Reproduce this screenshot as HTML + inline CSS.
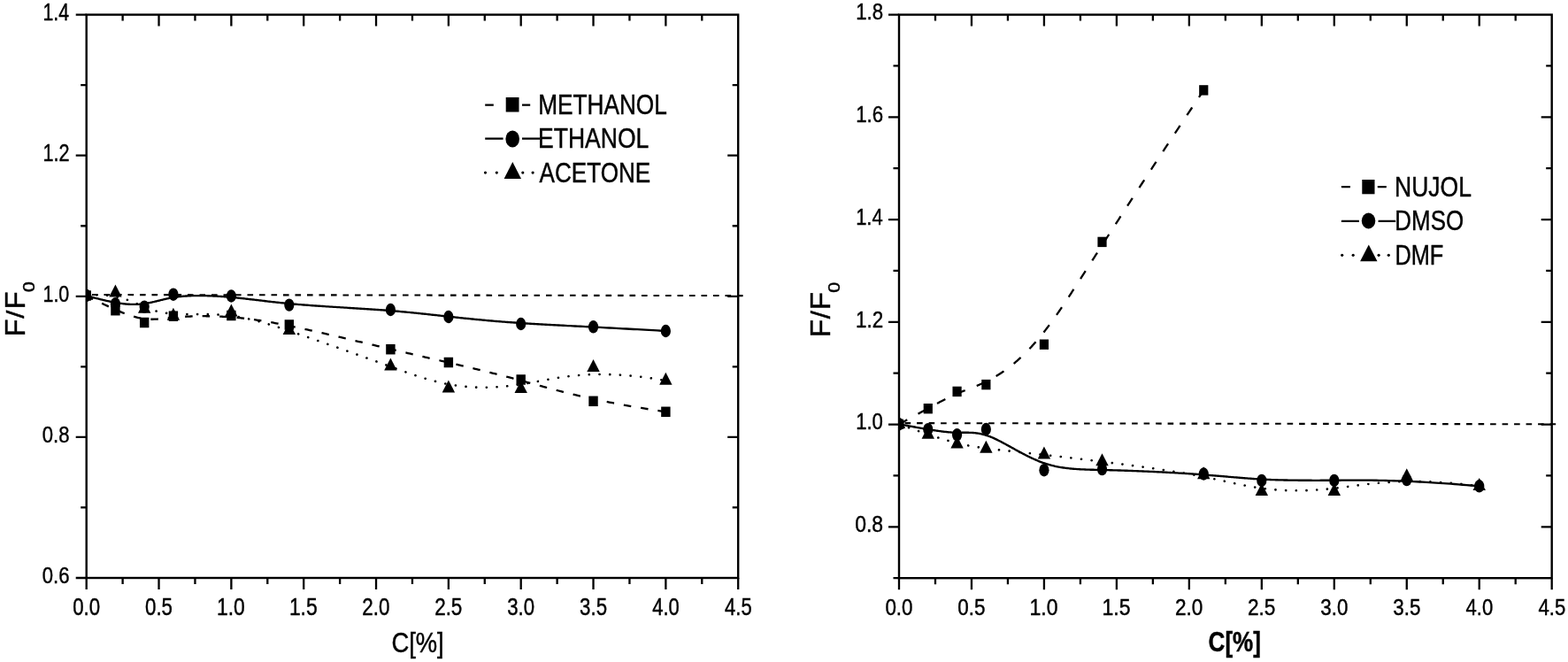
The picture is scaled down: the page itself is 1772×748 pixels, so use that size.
<!DOCTYPE html>
<html><head><meta charset="utf-8"><title>F/F0 vs C[%]</title>
<style>html,body{margin:0;padding:0;background:#fff;}body{width:1772px;height:748px;overflow:hidden;}svg{display:block;}text{stroke:#000;stroke-width:0.45px;}</style>
</head><body>
<svg width="1772" height="748" viewBox="0 0 1772 748" font-family="&quot;Liberation Sans&quot;, sans-serif" fill="#000">
<rect width="1772" height="748" fill="#fff"/>
<rect x="97.7" y="16.6" width="736.5" height="636.4" fill="none" stroke="#000" stroke-width="2.4"/>
<path d="M97.70 653.0 v13 M138.62 653.0 v7 M138.62 16.6 v7 M179.53 653.0 v13 M179.53 16.6 v13 M220.45 653.0 v7 M220.45 16.6 v7 M261.37 653.0 v13 M261.37 16.6 v13 M302.28 653.0 v7 M302.28 16.6 v7 M343.20 653.0 v13 M343.20 16.6 v13 M384.12 653.0 v7 M384.12 16.6 v7 M425.03 653.0 v13 M425.03 16.6 v13 M465.95 653.0 v7 M465.95 16.6 v7 M506.87 653.0 v13 M506.87 16.6 v13 M547.78 653.0 v7 M547.78 16.6 v7 M588.70 653.0 v13 M588.70 16.6 v13 M629.62 653.0 v7 M629.62 16.6 v7 M670.53 653.0 v13 M670.53 16.6 v13 M711.45 653.0 v7 M711.45 16.6 v7 M752.37 653.0 v13 M752.37 16.6 v13 M793.28 653.0 v7 M793.28 16.6 v7 M834.20 653.0 v13 M97.7 653.00 h-12 M97.7 573.45 h-6.5 M834.2 573.45 h-6.5 M97.7 493.90 h-12 M834.2 493.90 h-12 M97.7 414.35 h-6.5 M834.2 414.35 h-6.5 M97.7 334.80 h-12 M834.2 334.80 h-12 M97.7 255.25 h-6.5 M834.2 255.25 h-6.5 M97.7 175.70 h-12 M834.2 175.70 h-12 M97.7 96.15 h-6.5 M834.2 96.15 h-6.5 M97.7 16.60 h-12" stroke="#000" stroke-width="2.3" fill="none"/>
<text transform="translate(82.21 695.06) scale(0.8284 1)" font-size="26.86">0.0</text>
<text transform="translate(164.04 695.06) scale(0.8300 1)" font-size="26.86">0.5</text>
<text transform="translate(245.05 695.06) scale(0.8511 1)" font-size="26.86">1.0</text>
<text transform="translate(326.88 695.06) scale(0.8407 1)" font-size="27.24">1.5</text>
<text transform="translate(409.31 695.06) scale(0.8348 1)" font-size="26.86">2.0</text>
<text transform="translate(491.14 695.06) scale(0.8364 1)" font-size="26.86">2.5</text>
<text transform="translate(573.27 695.06) scale(0.8269 1)" font-size="26.86">3.0</text>
<text transform="translate(655.10 695.06) scale(0.8284 1)" font-size="26.86">3.5</text>
<text transform="translate(737.27 695.06) scale(0.8175 1)" font-size="26.86">4.0</text>
<text transform="translate(819.11 695.06) scale(0.8075 1)" font-size="27.24">4.5</text>
<text transform="translate(47.72 659.07) scale(0.8363 1)" font-size="26.43">0.6</text>
<text transform="translate(47.72 499.97) scale(0.8363 1)" font-size="26.43">0.8</text>
<text transform="translate(48.49 340.87) scale(0.8115 1)" font-size="26.43">1.0</text>
<text transform="translate(48.48 182.03) scale(0.8079 1)" font-size="26.81">1.2</text>
<text transform="translate(48.50 22.93) scale(0.7824 1)" font-size="27.20">1.4</text>
<text transform="translate(442.43 737.30) scale(0.8980 1)" font-size="30.46">C[%]</text>
<text transform="translate(27.52 380.51) rotate(-90) scale(1.0745 1)" font-size="30.55">F</text>
<text transform="translate(27.24 359.70) rotate(-90) scale(1.1477 1)" font-size="28.57">/</text>
<text transform="translate(27.52 349.62) rotate(-90) scale(1.0812 1)" font-size="30.55">F</text>
<text transform="translate(39.27 330.05) rotate(-90) scale(1.1252 1)" font-size="18.80">0</text>
<clipPath id="cL"><rect x="97.7" y="16.6" width="736.5" height="636.4"/></clipPath>
<clipPath id="cR"><rect x="1016.0" y="16.6" width="737.7" height="636.6"/></clipPath>
<path d="M97.7 333.0 L840.2 334.1" stroke="#000" stroke-width="2.1" stroke-dasharray="6.6 6.9" stroke-dashoffset="7.2" fill="none"/>
<g clip-path="url(#cL)">
<path d="M97.70 334.00 L99.65 334.99 L101.56 335.96 L103.43 336.91 L105.27 337.83 L107.06 338.73 L108.83 339.61 L110.55 340.47 L112.24 341.30 L113.90 342.11 L115.53 342.90 L117.12 343.67 L118.67 344.42 L120.20 345.15 L121.70 345.86 L123.16 346.55 L124.60 347.22 L126.01 347.86 L127.39 348.49 L128.74 349.10 L130.06 349.69 L131.36 350.27 L132.63 350.82 L133.88 351.35 L135.10 351.87 L136.30 352.37 L137.48 352.85 L138.64 353.32 L139.77 353.77 L140.88 354.20 L141.97 354.62 L143.04 355.01 L144.10 355.40 L145.13 355.76 L146.15 356.12 L147.15 356.45 L148.13 356.78 L149.10 357.08 L150.05 357.38 L150.99 357.65 L151.91 357.92 L152.82 358.17 L153.72 358.41 L154.61 358.63 L155.48 358.84 L156.35 359.04 L157.20 359.23 L158.05 359.40 L158.89 359.56 L159.72 359.71 L160.54 359.85 L161.36 359.98 L162.17 360.09 L162.97 360.20 L163.77 360.29 L164.57 360.38 L165.36 360.46 L166.14 360.52 L166.92 360.58 L167.70 360.63 L168.48 360.66 L169.25 360.70 L170.02 360.72 L170.79 360.73 L171.56 360.74 L172.32 360.74 L173.09 360.73 L173.85 360.72 L174.62 360.70 L175.39 360.67 L176.15 360.64 L176.92 360.60 L177.69 360.55 L178.47 360.50 L179.24 360.45 L180.02 360.39 L180.80 360.33 L181.59 360.26 L182.38 360.19 L183.17 360.12 L183.97 360.04 L184.78 359.96 L185.59 359.88 L186.40 359.80 L187.22 359.71 L188.05 359.62 L188.89 359.53 L189.74 359.44 L190.59 359.35 L191.45 359.26 L192.32 359.16 L193.20 359.07 L194.09 358.98 L194.99 358.89 L195.90 358.80 L196.82 358.71 L197.75 358.62 L198.70 358.53 L199.65 358.44 L200.62 358.36 L201.60 358.28 L202.60 358.20 L203.60 358.13 L204.62 358.05 L205.65 357.98 L206.70 357.92 L207.75 357.85 L208.82 357.79 L209.90 357.73 L210.99 357.68 L212.09 357.62 L213.20 357.57 L214.32 357.53 L215.45 357.48 L216.59 357.44 L217.74 357.41 L218.90 357.37 L220.07 357.34 L221.25 357.32 L222.43 357.29 L223.62 357.27 L224.82 357.25 L226.03 357.24 L227.25 357.23 L228.47 357.22 L229.70 357.22 L230.94 357.22 L232.18 357.22 L233.43 357.23 L234.68 357.24 L235.94 357.26 L237.20 357.28 L238.47 357.30 L239.75 357.33 L241.02 357.36 L242.31 357.39 L243.59 357.43 L244.88 357.47 L246.18 357.52 L247.47 357.57 L248.77 357.62 L250.07 357.68 L251.38 357.75 L252.68 357.81 L253.99 357.88 L255.30 357.96 L256.61 358.04 L257.92 358.12 L259.23 358.21 L260.55 358.31 L261.86 358.40 L263.17 358.51 L264.49 358.61 L265.80 358.72 L267.11 358.84 L268.43 358.96 L269.75 359.09 L271.07 359.22 L272.40 359.35 L273.73 359.49 L275.06 359.64 L276.39 359.79 L277.74 359.94 L279.08 360.10 L280.43 360.27 L281.79 360.44 L283.15 360.61 L284.52 360.80 L285.90 360.98 L287.28 361.17 L288.67 361.37 L290.07 361.57 L291.48 361.78 L292.89 362.00 L294.32 362.22 L295.75 362.44 L297.20 362.67 L298.65 362.91 L300.12 363.15 L301.60 363.40 L303.09 363.65 L304.59 363.91 L306.10 364.18 L307.63 364.45 L309.17 364.73 L310.72 365.02 L312.29 365.31 L313.87 365.60 L315.47 365.91 L317.08 366.22 L318.70 366.53 L320.35 366.86 L322.01 367.19 L323.68 367.52 L325.38 367.86 L327.09 368.21 L328.82 368.57 L330.57 368.93 L332.33 369.30 L334.12 369.68 L335.92 370.06 L337.75 370.45 L339.59 370.85 L341.45 371.25 L343.33 371.66 L345.22 372.07 L347.13 372.49 L349.05 372.92 L350.99 373.35 L352.94 373.78 L354.90 374.22 L356.88 374.67 L358.86 375.11 L360.86 375.57 L362.86 376.02 L364.87 376.48 L366.89 376.95 L368.92 377.41 L370.95 377.88 L372.99 378.35 L375.03 378.82 L377.07 379.30 L379.12 379.77 L381.17 380.25 L383.22 380.73 L385.27 381.21 L387.32 381.69 L389.37 382.17 L391.42 382.65 L393.46 383.13 L395.50 383.62 L397.54 384.10 L399.57 384.58 L401.60 385.06 L403.61 385.53 L405.62 386.01 L407.63 386.48 L409.62 386.96 L411.60 387.43 L413.58 387.90 L415.54 388.36 L417.49 388.82 L419.42 389.28 L421.34 389.74 L423.25 390.19 L425.14 390.64 L427.02 391.08 L428.88 391.52 L430.72 391.96 L432.54 392.39 L434.34 392.82 L436.12 393.24 L437.89 393.65 L439.63 394.06 L441.36 394.47 L443.07 394.87 L444.77 395.27 L446.44 395.66 L448.11 396.05 L449.75 396.43 L451.38 396.81 L453.00 397.19 L454.61 397.56 L456.20 397.93 L457.78 398.30 L459.34 398.66 L460.90 399.03 L462.44 399.38 L463.98 399.74 L465.50 400.09 L467.01 400.44 L468.52 400.79 L470.02 401.14 L471.51 401.48 L472.99 401.82 L474.47 402.16 L475.93 402.50 L477.40 402.84 L478.86 403.18 L480.31 403.51 L481.76 403.85 L483.21 404.18 L484.65 404.51 L486.09 404.84 L487.53 405.18 L488.97 405.51 L490.40 405.84 L491.84 406.17 L493.27 406.50 L494.71 406.83 L496.15 407.16 L497.59 407.50 L499.03 407.83 L500.47 408.17 L501.92 408.50 L503.37 408.84 L504.83 409.17 L506.29 409.51 L507.75 409.85 L509.23 410.20 L510.70 410.54 L512.19 410.89 L513.68 411.24 L515.18 411.59 L516.69 411.94 L518.20 412.29 L519.72 412.65 L521.25 413.01 L522.79 413.38 L524.34 413.74 L525.89 414.11 L527.45 414.48 L529.03 414.86 L530.61 415.23 L532.20 415.61 L533.80 416.00 L535.41 416.39 L537.03 416.78 L538.66 417.17 L540.30 417.57 L541.95 417.97 L543.61 418.38 L545.28 418.79 L546.96 419.20 L548.66 419.62 L550.36 420.05 L552.08 420.47 L553.81 420.90 L555.55 421.34 L557.31 421.78 L559.07 422.23 L560.85 422.68 L562.64 423.14 L564.45 423.60 L566.27 424.06 L568.10 424.54 L569.94 425.01 L571.80 425.50 L573.67 425.98 L575.56 426.48 L577.46 426.98 L579.38 427.48 L581.31 428.00 L583.26 428.51 L585.22 429.04 L587.20 429.57 L589.19 430.10 L591.20 430.65 L593.22 431.20 L595.26 431.75 L597.32 432.32 L599.40 432.89 L601.49 433.47 L603.61 434.05 L605.75 434.64 L607.91 435.23 L610.10 435.83 L612.32 436.44 L614.56 437.05 L616.84 437.67 L619.15 438.30 L621.49 438.93 L623.88 439.56 L626.29 440.20 L628.75 440.84 L631.25 441.49 L633.79 442.15 L636.38 442.80 L639.01 443.46 L641.69 444.13 L644.42 444.80 L647.20 445.47 L650.03 446.15 L652.91 446.83 L655.86 447.52 L658.86 448.20 L661.91 448.89 L665.03 449.59 L668.21 450.28 L671.46 450.98 L674.77 451.68 L678.15 452.39 L681.60 453.09 L685.12 453.80 L688.71 454.51 L692.37 455.23 L696.11 455.94 L699.93 456.65 L703.83 457.37 L707.80 458.09 L711.86 458.81 L716.01 459.53 L720.23 460.25 L724.55 460.97 L728.95 461.69 L733.45 462.41 L738.04 463.13 L742.72 463.86 L747.49 464.58 L752.37 465.30" stroke="#000" stroke-width="2.3" stroke-dasharray="8.5 11" fill="none"/>
<path d="M97.70 334.00 L99.65 334.55 L101.56 335.08 L103.43 335.60 L105.27 336.09 L107.06 336.57 L108.83 337.03 L110.55 337.48 L112.24 337.90 L113.90 338.31 L115.53 338.71 L117.12 339.09 L118.67 339.45 L120.20 339.79 L121.70 340.12 L123.16 340.44 L124.60 340.74 L126.01 341.02 L127.39 341.29 L128.74 341.55 L130.06 341.79 L131.36 342.02 L132.63 342.23 L133.88 342.43 L135.10 342.61 L136.30 342.79 L137.48 342.95 L138.64 343.09 L139.77 343.23 L140.88 343.35 L141.97 343.46 L143.04 343.56 L144.10 343.64 L145.13 343.72 L146.15 343.78 L147.15 343.84 L148.13 343.88 L149.10 343.91 L150.05 343.93 L150.99 343.94 L151.91 343.94 L152.82 343.93 L153.72 343.91 L154.61 343.88 L155.48 343.85 L156.35 343.80 L157.20 343.75 L158.05 343.68 L158.89 343.61 L159.72 343.53 L160.54 343.45 L161.36 343.35 L162.17 343.25 L162.97 343.14 L163.77 343.03 L164.57 342.91 L165.36 342.78 L166.14 342.64 L166.92 342.50 L167.70 342.36 L168.48 342.21 L169.25 342.06 L170.02 341.90 L170.79 341.73 L171.56 341.57 L172.32 341.40 L173.09 341.22 L173.85 341.04 L174.62 340.86 L175.39 340.68 L176.15 340.50 L176.92 340.31 L177.69 340.12 L178.47 339.93 L179.24 339.74 L180.02 339.55 L180.80 339.36 L181.59 339.16 L182.38 338.97 L183.17 338.78 L183.97 338.59 L184.78 338.39 L185.59 338.20 L186.40 338.02 L187.22 337.83 L188.05 337.64 L188.89 337.46 L189.74 337.28 L190.59 337.10 L191.45 336.93 L192.32 336.76 L193.20 336.59 L194.09 336.42 L194.99 336.26 L195.90 336.11 L196.82 335.96 L197.75 335.81 L198.70 335.67 L199.65 335.54 L200.62 335.41 L201.60 335.29 L202.60 335.17 L203.60 335.06 L204.62 334.96 L205.65 334.86 L206.70 334.77 L207.75 334.68 L208.82 334.60 L209.90 334.53 L210.99 334.46 L212.09 334.39 L213.20 334.34 L214.32 334.29 L215.45 334.24 L216.59 334.20 L217.74 334.17 L218.90 334.14 L220.07 334.11 L221.25 334.09 L222.43 334.08 L223.62 334.07 L224.82 334.07 L226.03 334.07 L227.25 334.08 L228.47 334.09 L229.70 334.11 L230.94 334.13 L232.18 334.15 L233.43 334.18 L234.68 334.22 L235.94 334.26 L237.20 334.30 L238.47 334.35 L239.75 334.41 L241.02 334.46 L242.31 334.53 L243.59 334.59 L244.88 334.66 L246.18 334.74 L247.47 334.82 L248.77 334.90 L250.07 334.98 L251.38 335.08 L252.68 335.17 L253.99 335.27 L255.30 335.37 L256.61 335.47 L257.92 335.58 L259.23 335.69 L260.55 335.81 L261.86 335.93 L263.17 336.05 L264.49 336.18 L265.80 336.30 L267.11 336.44 L268.43 336.57 L269.75 336.71 L271.07 336.85 L272.40 336.99 L273.73 337.13 L275.06 337.28 L276.39 337.43 L277.74 337.58 L279.08 337.74 L280.43 337.89 L281.79 338.05 L283.15 338.21 L284.52 338.37 L285.90 338.53 L287.28 338.69 L288.67 338.86 L290.07 339.03 L291.48 339.19 L292.89 339.36 L294.32 339.53 L295.75 339.70 L297.20 339.87 L298.65 340.04 L300.12 340.21 L301.60 340.38 L303.09 340.56 L304.59 340.73 L306.10 340.90 L307.63 341.07 L309.17 341.25 L310.72 341.42 L312.29 341.59 L313.87 341.76 L315.47 341.93 L317.08 342.10 L318.70 342.27 L320.35 342.44 L322.01 342.61 L323.68 342.77 L325.38 342.94 L327.09 343.10 L328.82 343.26 L330.57 343.42 L332.33 343.58 L334.12 343.74 L335.92 343.89 L337.75 344.05 L339.59 344.20 L341.45 344.35 L343.33 344.50 L345.22 344.64 L347.13 344.79 L349.05 344.93 L350.99 345.08 L352.94 345.22 L354.90 345.36 L356.88 345.49 L358.86 345.63 L360.86 345.77 L362.86 345.90 L364.87 346.03 L366.89 346.17 L368.92 346.30 L370.95 346.43 L372.99 346.56 L375.03 346.69 L377.07 346.82 L379.12 346.95 L381.17 347.07 L383.22 347.20 L385.27 347.33 L387.32 347.45 L389.37 347.58 L391.42 347.70 L393.46 347.83 L395.50 347.96 L397.54 348.08 L399.57 348.21 L401.60 348.33 L403.61 348.46 L405.62 348.58 L407.63 348.71 L409.62 348.83 L411.60 348.96 L413.58 349.08 L415.54 349.21 L417.49 349.34 L419.42 349.47 L421.34 349.60 L423.25 349.72 L425.14 349.85 L427.02 349.99 L428.88 350.12 L430.72 350.25 L432.54 350.38 L434.34 350.52 L436.12 350.65 L437.89 350.79 L439.63 350.93 L441.36 351.07 L443.07 351.20 L444.77 351.35 L446.44 351.49 L448.11 351.63 L449.75 351.77 L451.38 351.92 L453.00 352.06 L454.61 352.21 L456.20 352.35 L457.78 352.50 L459.34 352.65 L460.90 352.80 L462.44 352.94 L463.98 353.09 L465.50 353.24 L467.01 353.40 L468.52 353.55 L470.02 353.70 L471.51 353.85 L472.99 354.01 L474.47 354.16 L475.93 354.31 L477.40 354.47 L478.86 354.62 L480.31 354.78 L481.76 354.94 L483.21 355.09 L484.65 355.25 L486.09 355.41 L487.53 355.57 L488.97 355.72 L490.40 355.88 L491.84 356.04 L493.27 356.20 L494.71 356.36 L496.15 356.52 L497.59 356.68 L499.03 356.84 L500.47 357.00 L501.92 357.16 L503.37 357.32 L504.83 357.48 L506.29 357.64 L507.75 357.80 L509.23 357.96 L510.70 358.12 L512.19 358.28 L513.68 358.44 L515.18 358.60 L516.69 358.76 L518.20 358.92 L519.72 359.08 L521.25 359.24 L522.79 359.40 L524.34 359.56 L525.89 359.72 L527.45 359.88 L529.03 360.04 L530.61 360.19 L532.20 360.35 L533.80 360.51 L535.41 360.67 L537.03 360.82 L538.66 360.98 L540.30 361.14 L541.95 361.29 L543.61 361.45 L545.28 361.60 L546.96 361.75 L548.66 361.91 L550.36 362.06 L552.08 362.21 L553.81 362.36 L555.55 362.51 L557.31 362.66 L559.07 362.81 L560.85 362.96 L562.64 363.11 L564.45 363.26 L566.27 363.40 L568.10 363.55 L569.94 363.69 L571.80 363.83 L573.67 363.98 L575.56 364.12 L577.46 364.26 L579.38 364.40 L581.31 364.54 L583.26 364.67 L585.22 364.81 L587.20 364.95 L589.19 365.08 L591.20 365.21 L593.22 365.34 L595.26 365.48 L597.32 365.60 L599.40 365.73 L601.49 365.86 L603.61 365.99 L605.75 366.11 L607.91 366.24 L610.10 366.36 L612.32 366.49 L614.56 366.62 L616.84 366.74 L619.15 366.87 L621.49 366.99 L623.88 367.12 L626.29 367.25 L628.75 367.38 L631.25 367.51 L633.79 367.65 L636.38 367.78 L639.01 367.92 L641.69 368.05 L644.42 368.20 L647.20 368.34 L650.03 368.48 L652.91 368.63 L655.86 368.78 L658.86 368.94 L661.91 369.09 L665.03 369.26 L668.21 369.42 L671.46 369.59 L674.77 369.76 L678.15 369.94 L681.60 370.12 L685.12 370.30 L688.71 370.49 L692.37 370.68 L696.11 370.88 L699.93 371.09 L703.83 371.30 L707.80 371.51 L711.86 371.73 L716.01 371.96 L720.23 372.19 L724.55 372.43 L728.95 372.67 L733.45 372.93 L738.04 373.18 L742.72 373.45 L747.49 373.72 L752.37 374.00" stroke="#000" stroke-width="2.35" fill="none"/>
<path d="M97.70 334.00 L99.65 333.82 L101.56 333.67 L103.43 333.55 L105.27 333.46 L107.06 333.39 L108.83 333.35 L110.55 333.34 L112.24 333.35 L113.90 333.38 L115.53 333.43 L117.12 333.51 L118.67 333.61 L120.20 333.73 L121.70 333.87 L123.16 334.03 L124.60 334.21 L126.01 334.40 L127.39 334.61 L128.74 334.84 L130.06 335.08 L131.36 335.34 L132.63 335.61 L133.88 335.90 L135.10 336.20 L136.30 336.51 L137.48 336.83 L138.64 337.16 L139.77 337.49 L140.88 337.84 L141.97 338.20 L143.04 338.56 L144.10 338.93 L145.13 339.31 L146.15 339.69 L147.15 340.07 L148.13 340.46 L149.10 340.85 L150.05 341.24 L150.99 341.64 L151.91 342.03 L152.82 342.42 L153.72 342.82 L154.61 343.21 L155.48 343.60 L156.35 343.98 L157.20 344.36 L158.05 344.74 L158.89 345.11 L159.72 345.47 L160.54 345.83 L161.36 346.18 L162.17 346.52 L162.97 346.85 L163.77 347.18 L164.57 347.50 L165.36 347.81 L166.14 348.11 L166.92 348.41 L167.70 348.70 L168.48 348.98 L169.25 349.25 L170.02 349.52 L170.79 349.78 L171.56 350.03 L172.32 350.28 L173.09 350.52 L173.85 350.75 L174.62 350.98 L175.39 351.20 L176.15 351.41 L176.92 351.62 L177.69 351.82 L178.47 352.01 L179.24 352.19 L180.02 352.37 L180.80 352.55 L181.59 352.72 L182.38 352.88 L183.17 353.03 L183.97 353.18 L184.78 353.32 L185.59 353.46 L186.40 353.59 L187.22 353.72 L188.05 353.83 L188.89 353.95 L189.74 354.06 L190.59 354.16 L191.45 354.25 L192.32 354.34 L193.20 354.43 L194.09 354.51 L194.99 354.58 L195.90 354.65 L196.82 354.72 L197.75 354.78 L198.70 354.83 L199.65 354.88 L200.62 354.92 L201.60 354.96 L202.60 354.99 L203.60 355.02 L204.62 355.05 L205.65 355.07 L206.70 355.08 L207.75 355.10 L208.82 355.11 L209.90 355.12 L210.99 355.12 L212.09 355.12 L213.20 355.13 L214.32 355.13 L215.45 355.12 L216.59 355.12 L217.74 355.12 L218.90 355.11 L220.07 355.11 L221.25 355.11 L222.43 355.10 L223.62 355.10 L224.82 355.10 L226.03 355.10 L227.25 355.10 L228.47 355.11 L229.70 355.11 L230.94 355.12 L232.18 355.14 L233.43 355.15 L234.68 355.17 L235.94 355.19 L237.20 355.22 L238.47 355.25 L239.75 355.29 L241.02 355.33 L242.31 355.37 L243.59 355.43 L244.88 355.48 L246.18 355.55 L247.47 355.62 L248.77 355.70 L250.07 355.78 L251.38 355.87 L252.68 355.97 L253.99 356.08 L255.30 356.20 L256.61 356.32 L257.92 356.45 L259.23 356.60 L260.55 356.75 L261.86 356.91 L263.17 357.08 L264.49 357.27 L265.80 357.46 L267.11 357.66 L268.43 357.87 L269.75 358.09 L271.07 358.32 L272.40 358.57 L273.73 358.82 L275.06 359.08 L276.39 359.35 L277.74 359.63 L279.08 359.92 L280.43 360.21 L281.79 360.52 L283.15 360.84 L284.52 361.17 L285.90 361.50 L287.28 361.85 L288.67 362.20 L290.07 362.57 L291.48 362.94 L292.89 363.32 L294.32 363.71 L295.75 364.11 L297.20 364.52 L298.65 364.94 L300.12 365.37 L301.60 365.80 L303.09 366.25 L304.59 366.70 L306.10 367.16 L307.63 367.63 L309.17 368.11 L310.72 368.60 L312.29 369.10 L313.87 369.61 L315.47 370.12 L317.08 370.64 L318.70 371.17 L320.35 371.71 L322.01 372.26 L323.68 372.82 L325.38 373.38 L327.09 373.95 L328.82 374.54 L330.57 375.12 L332.33 375.72 L334.12 376.33 L335.92 376.94 L337.75 377.56 L339.59 378.19 L341.45 378.83 L343.33 379.47 L345.22 380.12 L347.13 380.78 L349.05 381.44 L350.99 382.11 L352.94 382.78 L354.90 383.46 L356.88 384.15 L358.86 384.84 L360.86 385.53 L362.86 386.23 L364.87 386.93 L366.89 387.64 L368.92 388.34 L370.95 389.06 L372.99 389.77 L375.03 390.49 L377.07 391.20 L379.12 391.93 L381.17 392.65 L383.22 393.37 L385.27 394.10 L387.32 394.82 L389.37 395.55 L391.42 396.27 L393.46 397.00 L395.50 397.72 L397.54 398.45 L399.57 399.17 L401.60 399.89 L403.61 400.61 L405.62 401.33 L407.63 402.04 L409.62 402.76 L411.60 403.47 L413.58 404.18 L415.54 404.88 L417.49 405.58 L419.42 406.28 L421.34 406.97 L423.25 407.66 L425.14 408.34 L427.02 409.02 L428.88 409.69 L430.72 410.36 L432.54 411.02 L434.34 411.68 L436.12 412.32 L437.89 412.97 L439.63 413.60 L441.36 414.23 L443.07 414.85 L444.77 415.47 L446.44 416.08 L448.11 416.68 L449.75 417.27 L451.38 417.86 L453.00 418.44 L454.61 419.02 L456.20 419.58 L457.78 420.14 L459.34 420.69 L460.90 421.24 L462.44 421.77 L463.98 422.30 L465.50 422.83 L467.01 423.34 L468.52 423.85 L470.02 424.34 L471.51 424.83 L472.99 425.32 L474.47 425.79 L475.93 426.26 L477.40 426.72 L478.86 427.17 L480.31 427.61 L481.76 428.04 L483.21 428.47 L484.65 428.88 L486.09 429.29 L487.53 429.69 L488.97 430.08 L490.40 430.46 L491.84 430.84 L493.27 431.20 L494.71 431.56 L496.15 431.90 L497.59 432.24 L499.03 432.57 L500.47 432.89 L501.92 433.20 L503.37 433.50 L504.83 433.79 L506.29 434.07 L507.75 434.34 L509.23 434.60 L510.70 434.85 L512.19 435.10 L513.68 435.33 L515.18 435.55 L516.69 435.76 L518.20 435.97 L519.72 436.16 L521.25 436.34 L522.79 436.51 L524.34 436.67 L525.89 436.82 L527.45 436.96 L529.03 437.09 L530.61 437.20 L532.20 437.31 L533.80 437.41 L535.41 437.49 L537.03 437.56 L538.66 437.62 L540.30 437.67 L541.95 437.71 L543.61 437.73 L545.28 437.75 L546.96 437.75 L548.66 437.74 L550.36 437.71 L552.08 437.68 L553.81 437.63 L555.55 437.57 L557.31 437.50 L559.07 437.41 L560.85 437.31 L562.64 437.20 L564.45 437.08 L566.27 436.94 L568.10 436.79 L569.94 436.63 L571.80 436.45 L573.67 436.26 L575.56 436.06 L577.46 435.84 L579.38 435.61 L581.31 435.36 L583.26 435.10 L585.22 434.83 L587.20 434.54 L589.19 434.24 L591.20 433.92 L593.22 433.59 L595.26 433.24 L597.32 432.88 L599.40 432.51 L601.49 432.13 L603.61 431.73 L605.75 431.33 L607.91 430.91 L610.10 430.50 L612.32 430.08 L614.56 429.66 L616.84 429.23 L619.15 428.81 L621.49 428.39 L623.88 427.98 L626.29 427.57 L628.75 427.17 L631.25 426.77 L633.79 426.39 L636.38 426.02 L639.01 425.66 L641.69 425.32 L644.42 425.00 L647.20 424.69 L650.03 424.41 L652.91 424.14 L655.86 423.90 L658.86 423.69 L661.91 423.50 L665.03 423.33 L668.21 423.20 L671.46 423.10 L674.77 423.03 L678.15 423.00 L681.60 423.00 L685.12 423.04 L688.71 423.12 L692.37 423.24 L696.11 423.41 L699.93 423.61 L703.83 423.87 L707.80 424.16 L711.86 424.51 L716.01 424.91 L720.23 425.36 L724.55 425.86 L728.95 426.42 L733.45 427.04 L738.04 427.71 L742.72 428.45 L747.49 429.24 L752.37 430.10" stroke="#000" stroke-width="2.6" stroke-linecap="round" stroke-dasharray="0.1 11.6" fill="none"/>
<rect x="92.50" y="328.25" width="10.4" height="11.5"/>
<rect x="125.23" y="344.95" width="10.4" height="11.5"/>
<rect x="157.97" y="358.75" width="10.4" height="11.5"/>
<rect x="190.70" y="351.45" width="10.4" height="11.5"/>
<rect x="256.17" y="350.75" width="10.4" height="11.5"/>
<rect x="321.63" y="361.25" width="10.4" height="11.5"/>
<rect x="436.20" y="388.95" width="10.4" height="11.5"/>
<rect x="501.67" y="403.75" width="10.4" height="11.5"/>
<rect x="583.50" y="423.25" width="10.4" height="11.5"/>
<rect x="665.33" y="447.55" width="10.4" height="11.5"/>
<rect x="747.17" y="459.55" width="10.4" height="11.5"/>
<ellipse cx="97.70" cy="334.00" rx="5.6" ry="7.2"/>
<ellipse cx="130.43" cy="343.30" rx="5.6" ry="7.2"/>
<ellipse cx="163.17" cy="346.60" rx="5.6" ry="7.2"/>
<ellipse cx="195.90" cy="332.70" rx="5.6" ry="7.2"/>
<ellipse cx="261.37" cy="334.50" rx="5.6" ry="7.2"/>
<ellipse cx="326.83" cy="344.60" rx="5.6" ry="7.2"/>
<ellipse cx="441.40" cy="350.00" rx="5.6" ry="7.2"/>
<ellipse cx="506.87" cy="358.00" rx="5.6" ry="7.2"/>
<ellipse cx="588.70" cy="366.00" rx="5.6" ry="7.2"/>
<ellipse cx="670.53" cy="369.30" rx="5.6" ry="7.2"/>
<ellipse cx="752.37" cy="374.00" rx="5.6" ry="7.2"/>
<path d="M97.70 324.70 L104.90 338.70 L90.50 338.70 Z"/>
<path d="M130.43 321.50 L137.63 335.50 L123.23 335.50 Z"/>
<path d="M163.17 339.70 L170.37 353.70 L155.97 353.70 Z"/>
<path d="M195.90 347.70 L203.10 361.70 L188.70 361.70 Z"/>
<path d="M261.37 343.40 L268.57 357.40 L254.17 357.40 Z"/>
<path d="M326.83 364.00 L334.03 378.00 L319.63 378.00 Z"/>
<path d="M441.40 404.60 L448.60 418.60 L434.20 418.60 Z"/>
<path d="M506.87 429.40 L514.07 443.40 L499.67 443.40 Z"/>
<path d="M588.70 430.00 L595.90 444.00 L581.50 444.00 Z"/>
<path d="M670.53 406.00 L677.73 420.00 L663.33 420.00 Z"/>
<path d="M752.37 420.80 L759.57 434.80 L745.17 434.80 Z"/>
</g>
<path d="M548.2 118.7 H557.8 M590 118.7 H599.2 M548.2 156.6 H568.6 M590 156.6 H610" stroke="#000" stroke-width="2.2" fill="none"/>
<rect x="571.7" y="110" width="14.8" height="16.5"/>
<ellipse cx="579.2" cy="156.95" rx="7.8" ry="9.55"/>
<path d="M579.3 183 L589 202.1 L569.6 202.1 Z"/>
<circle cx="548.5" cy="195.1" r="1.6"/>
<circle cx="561.3" cy="195.1" r="1.6"/>
<circle cx="590.8" cy="195.1" r="1.6"/>
<circle cx="602.1" cy="195.1" r="1.6"/>
<text transform="translate(608.14 128.72) scale(0.8592 1)" font-size="30.53">METHANOL</text>
<text transform="translate(608.11 167.42) scale(0.8647 1)" font-size="30.67">ETHANOL</text>
<text transform="translate(609.53 205.71) scale(0.8473 1)" font-size="30.81">ACETONE</text>
<rect x="1016.0" y="16.6" width="737.7" height="636.6" fill="none" stroke="#000" stroke-width="2.4"/>
<path d="M1016.00 653.2 v13 M1056.98 653.2 v7 M1056.98 16.6 v7 M1097.97 653.2 v13 M1097.97 16.6 v13 M1138.95 653.2 v7 M1138.95 16.6 v7 M1179.93 653.2 v13 M1179.93 16.6 v13 M1220.92 653.2 v7 M1220.92 16.6 v7 M1261.90 653.2 v13 M1261.90 16.6 v13 M1302.88 653.2 v7 M1302.88 16.6 v7 M1343.87 653.2 v13 M1343.87 16.6 v13 M1384.85 653.2 v7 M1384.85 16.6 v7 M1425.83 653.2 v13 M1425.83 16.6 v13 M1466.82 653.2 v7 M1466.82 16.6 v7 M1507.80 653.2 v13 M1507.80 16.6 v13 M1548.78 653.2 v7 M1548.78 16.6 v7 M1589.77 653.2 v13 M1589.77 16.6 v13 M1630.75 653.2 v7 M1630.75 16.6 v7 M1671.73 653.2 v13 M1671.73 16.6 v13 M1712.72 653.2 v7 M1712.72 16.6 v7 M1753.70 653.2 v13 M1016.0 653.20 h-6.5 M1016.0 595.33 h-12 M1753.7 595.33 h-12 M1016.0 537.45 h-6.5 M1753.7 537.45 h-6.5 M1016.0 479.58 h-12 M1753.7 479.58 h-12 M1016.0 421.71 h-6.5 M1753.7 421.71 h-6.5 M1016.0 363.84 h-12 M1753.7 363.84 h-12 M1016.0 305.96 h-6.5 M1753.7 305.96 h-6.5 M1016.0 248.09 h-12 M1753.7 248.09 h-12 M1016.0 190.22 h-6.5 M1753.7 190.22 h-6.5 M1016.0 132.35 h-12 M1753.7 132.35 h-12 M1016.0 74.47 h-6.5 M1753.7 74.47 h-6.5 M1016.0 16.60 h-12" stroke="#000" stroke-width="2.3" fill="none"/>
<text transform="translate(1000.40 694.88) scale(0.8708 1)" font-size="25.72">0.0</text>
<text transform="translate(1082.37 694.88) scale(0.8724 1)" font-size="25.72">0.5</text>
<text transform="translate(1163.51 694.88) scale(0.8946 1)" font-size="25.72">1.0</text>
<text transform="translate(1245.47 694.87) scale(0.8837 1)" font-size="26.09">1.5</text>
<text transform="translate(1328.04 694.88) scale(0.8775 1)" font-size="25.72">2.0</text>
<text transform="translate(1410.00 694.88) scale(0.8791 1)" font-size="25.72">2.5</text>
<text transform="translate(1492.26 694.88) scale(0.8691 1)" font-size="25.72">3.0</text>
<text transform="translate(1574.23 694.88) scale(0.8708 1)" font-size="25.72">3.5</text>
<text transform="translate(1656.54 694.88) scale(0.8593 1)" font-size="25.72">4.0</text>
<text transform="translate(1738.50 694.87) scale(0.8488 1)" font-size="26.09">4.5</text>
<text transform="translate(966.18 601.00) scale(0.8871 1)" font-size="25.87">0.8</text>
<text transform="translate(967.14 485.26) scale(0.8564 1)" font-size="25.87">1.0</text>
<text transform="translate(967.12 369.77) scale(0.8527 1)" font-size="26.24">1.2</text>
<text transform="translate(967.15 254.02) scale(0.8258 1)" font-size="26.62">1.4</text>
<text transform="translate(967.13 138.02) scale(0.8598 1)" font-size="25.87">1.6</text>
<text transform="translate(967.13 22.28) scale(0.8598 1)" font-size="25.87">1.8</text>
<text transform="translate(1365.56 735.98) scale(0.8530 1)" font-size="30.56" font-weight="bold">C[%]</text>
<text transform="translate(937.92 381.16) rotate(-90) scale(1.0894 1)" font-size="30.69">F</text>
<text transform="translate(937.64 360.20) rotate(-90) scale(1.1423 1)" font-size="28.71">/</text>
<text transform="translate(937.92 350.34) rotate(-90) scale(1.0828 1)" font-size="30.69">F</text>
<text transform="translate(948.87 330.65) rotate(-90) scale(1.1363 1)" font-size="18.80">0</text>
<path d="M1016.0 478.1 L1759.7 479.3" stroke="#000" stroke-width="2.1" stroke-dasharray="6.6 6.9" stroke-dashoffset="6.9" fill="none"/>
<g clip-path="url(#cR)">
<path d="M1016.00 479.30 L1016.98 478.77 L1017.95 478.25 L1018.91 477.73 L1019.87 477.22 L1020.81 476.71 L1021.74 476.21 L1022.66 475.71 L1023.58 475.22 L1024.48 474.73 L1025.38 474.24 L1026.27 473.76 L1027.14 473.29 L1028.01 472.81 L1028.87 472.35 L1029.73 471.88 L1030.57 471.43 L1031.40 470.97 L1032.23 470.52 L1033.05 470.08 L1033.85 469.64 L1034.66 469.20 L1035.45 468.77 L1036.23 468.34 L1037.01 467.92 L1037.78 467.50 L1038.54 467.08 L1039.29 466.67 L1040.04 466.26 L1040.77 465.86 L1041.51 465.46 L1042.23 465.06 L1042.94 464.67 L1043.65 464.28 L1044.35 463.90 L1045.05 463.52 L1045.73 463.14 L1046.42 462.77 L1047.09 462.40 L1047.76 462.04 L1048.42 461.68 L1049.07 461.32 L1049.72 460.97 L1050.36 460.62 L1050.99 460.27 L1051.62 459.93 L1052.24 459.59 L1052.86 459.25 L1053.47 458.92 L1054.07 458.59 L1054.67 458.27 L1055.26 457.95 L1055.85 457.63 L1056.43 457.32 L1057.00 457.00 L1057.57 456.70 L1058.14 456.39 L1058.70 456.09 L1059.25 455.79 L1059.80 455.50 L1060.34 455.21 L1060.88 454.92 L1061.42 454.63 L1061.95 454.35 L1062.47 454.07 L1062.99 453.80 L1063.51 453.52 L1064.02 453.25 L1064.53 452.99 L1065.03 452.72 L1065.53 452.46 L1066.02 452.21 L1066.51 451.95 L1067.00 451.70 L1067.48 451.45 L1067.96 451.20 L1068.43 450.96 L1068.91 450.72 L1069.37 450.48 L1069.84 450.24 L1070.30 450.01 L1070.76 449.78 L1071.21 449.55 L1071.66 449.33 L1072.11 449.11 L1072.56 448.89 L1073.00 448.67 L1073.44 448.46 L1073.88 448.24 L1074.31 448.03 L1074.74 447.83 L1075.17 447.62 L1075.60 447.42 L1076.03 447.22 L1076.45 447.02 L1076.87 446.82 L1077.29 446.63 L1077.70 446.44 L1078.12 446.25 L1078.53 446.06 L1078.94 445.88 L1079.35 445.70 L1079.76 445.52 L1080.17 445.34 L1080.57 445.16 L1080.98 444.99 L1081.38 444.81 L1081.78 444.64 L1082.18 444.47 L1082.58 444.30 L1082.97 444.14 L1083.37 443.97 L1083.77 443.81 L1084.16 443.65 L1084.55 443.49 L1084.94 443.33 L1085.34 443.17 L1085.73 443.01 L1086.12 442.86 L1086.50 442.70 L1086.89 442.55 L1087.28 442.40 L1087.67 442.24 L1088.05 442.09 L1088.44 441.94 L1088.82 441.79 L1089.21 441.64 L1089.59 441.49 L1089.98 441.35 L1090.36 441.20 L1090.74 441.05 L1091.13 440.91 L1091.51 440.76 L1091.90 440.61 L1092.28 440.47 L1092.66 440.32 L1093.05 440.17 L1093.43 440.03 L1093.81 439.88 L1094.20 439.74 L1094.58 439.59 L1094.97 439.44 L1095.35 439.30 L1095.74 439.15 L1096.12 439.00 L1096.51 438.85 L1096.90 438.70 L1097.29 438.55 L1097.67 438.40 L1098.06 438.25 L1098.45 438.10 L1098.85 437.95 L1099.24 437.79 L1099.63 437.64 L1100.02 437.48 L1100.42 437.33 L1100.82 437.17 L1101.21 437.01 L1101.61 436.85 L1102.01 436.69 L1102.41 436.53 L1102.81 436.36 L1103.22 436.20 L1103.62 436.03 L1104.03 435.86 L1104.44 435.69 L1104.85 435.52 L1105.26 435.34 L1105.67 435.17 L1106.09 434.99 L1106.50 434.81 L1106.92 434.63 L1107.34 434.44 L1107.76 434.26 L1108.19 434.07 L1108.61 433.88 L1109.04 433.68 L1109.47 433.49 L1109.90 433.29 L1110.34 433.09 L1110.78 432.89 L1111.21 432.68 L1111.66 432.47 L1112.10 432.26 L1112.55 432.05 L1113.00 431.83 L1113.45 431.61 L1113.90 431.39 L1114.36 431.17 L1114.82 430.94 L1115.28 430.70 L1115.75 430.47 L1116.22 430.23 L1116.69 429.99 L1117.16 429.74 L1117.64 429.50 L1118.12 429.24 L1118.60 428.99 L1119.09 428.73 L1119.58 428.47 L1120.07 428.20 L1120.57 427.93 L1121.07 427.65 L1121.57 427.38 L1122.08 427.09 L1122.59 426.81 L1123.10 426.52 L1123.61 426.22 L1124.13 425.92 L1124.66 425.62 L1125.18 425.31 L1125.71 424.99 L1126.24 424.68 L1126.78 424.35 L1127.32 424.02 L1127.86 423.69 L1128.41 423.35 L1128.96 423.01 L1129.51 422.66 L1130.07 422.30 L1130.62 421.94 L1131.19 421.58 L1131.75 421.20 L1132.32 420.83 L1132.89 420.44 L1133.47 420.05 L1134.05 419.66 L1134.63 419.25 L1135.21 418.85 L1135.80 418.43 L1136.39 418.01 L1136.99 417.58 L1137.59 417.15 L1138.19 416.71 L1138.80 416.26 L1139.40 415.80 L1140.02 415.34 L1140.63 414.87 L1141.25 414.40 L1141.87 413.91 L1142.49 413.42 L1143.12 412.92 L1143.75 412.42 L1144.39 411.90 L1145.03 411.38 L1145.67 410.85 L1146.31 410.32 L1146.96 409.77 L1147.61 409.22 L1148.27 408.66 L1148.92 408.09 L1149.59 407.51 L1150.25 406.92 L1150.92 406.33 L1151.59 405.72 L1152.26 405.11 L1152.94 404.49 L1153.62 403.86 L1154.31 403.22 L1154.99 402.57 L1155.68 401.91 L1156.38 401.24 L1157.07 400.57 L1157.78 399.88 L1158.48 399.19 L1159.19 398.48 L1159.90 397.77 L1160.61 397.04 L1161.33 396.31 L1162.05 395.56 L1162.77 394.81 L1163.50 394.04 L1164.23 393.26 L1164.96 392.48 L1165.70 391.68 L1166.44 390.87 L1167.18 390.06 L1167.93 389.23 L1168.68 388.39 L1169.43 387.54 L1170.19 386.68 L1170.95 385.80 L1171.71 384.92 L1172.48 384.03 L1173.25 383.12 L1174.02 382.20 L1174.80 381.27 L1175.58 380.33 L1176.36 379.38 L1177.15 378.41 L1177.94 377.44 L1178.73 376.45 L1179.53 375.45 L1180.33 374.43 L1181.13 373.41 L1181.94 372.37 L1182.74 371.32 L1183.56 370.26 L1184.37 369.18 L1185.19 368.09 L1186.02 366.99 L1186.84 365.87 L1187.67 364.75 L1188.51 363.60 L1189.35 362.44 L1190.19 361.27 L1191.04 360.08 L1191.90 358.87 L1192.77 357.65 L1193.64 356.41 L1194.52 355.15 L1195.41 353.87 L1196.30 352.57 L1197.21 351.26 L1198.12 349.92 L1199.05 348.56 L1199.99 347.18 L1200.93 345.77 L1201.89 344.35 L1202.86 342.90 L1203.85 341.42 L1204.84 339.92 L1205.85 338.40 L1206.88 336.85 L1207.91 335.28 L1208.97 333.68 L1210.03 332.05 L1211.12 330.39 L1212.22 328.71 L1213.33 326.99 L1214.46 325.25 L1215.62 323.47 L1216.78 321.67 L1217.97 319.84 L1219.18 317.97 L1220.40 316.07 L1221.65 314.14 L1222.91 312.17 L1224.20 310.17 L1225.51 308.14 L1226.83 306.07 L1228.19 303.97 L1229.56 301.82 L1230.96 299.65 L1232.38 297.43 L1233.82 295.18 L1235.29 292.89 L1236.78 290.56 L1238.30 288.19 L1239.85 285.78 L1241.42 283.33 L1243.02 280.84 L1244.64 278.31 L1246.29 275.73 L1247.98 273.11 L1249.69 270.45 L1251.42 267.75 L1253.19 265.00 L1254.99 262.20 L1256.82 259.36 L1258.68 256.47 L1260.57 253.54 L1262.49 250.56 L1264.45 247.53 L1266.44 244.45 L1268.46 241.33 L1270.51 238.15 L1272.60 234.92 L1274.73 231.65 L1276.88 228.32 L1279.08 224.94 L1281.31 221.51 L1283.58 218.02 L1285.88 214.48 L1288.22 210.89 L1290.60 207.25 L1293.02 203.54 L1295.47 199.79 L1297.97 195.97 L1300.50 192.10 L1303.08 188.17 L1305.70 184.19 L1308.35 180.14 L1311.05 176.04 L1313.79 171.88 L1316.58 167.65 L1319.40 163.37 L1322.27 159.02 L1325.18 154.62 L1328.14 150.15 L1331.14 145.61 L1334.19 141.02 L1337.29 136.36 L1340.43 131.63 L1343.61 126.84 L1346.85 121.99 L1350.13 117.07 L1353.46 112.08 L1356.83 107.02 L1360.26 101.90" stroke="#000" stroke-width="2.3" stroke-dasharray="10.5 14" fill="none"/>
<path d="M1016.00 479.30 L1017.95 479.65 L1019.87 480.00 L1021.74 480.33 L1023.58 480.66 L1025.38 480.99 L1027.14 481.31 L1028.87 481.62 L1030.57 481.92 L1032.23 482.22 L1033.85 482.51 L1035.45 482.79 L1037.01 483.07 L1038.54 483.34 L1040.04 483.60 L1041.51 483.86 L1042.94 484.11 L1044.35 484.35 L1045.73 484.59 L1047.09 484.82 L1048.42 485.04 L1049.72 485.26 L1050.99 485.47 L1052.24 485.67 L1053.47 485.87 L1054.67 486.06 L1055.85 486.24 L1057.00 486.42 L1058.14 486.59 L1059.25 486.76 L1060.34 486.91 L1061.42 487.06 L1062.47 487.21 L1063.51 487.35 L1064.53 487.48 L1065.53 487.61 L1066.51 487.72 L1067.48 487.84 L1068.43 487.94 L1069.37 488.04 L1070.30 488.14 L1071.21 488.23 L1072.11 488.31 L1073.00 488.38 L1073.88 488.45 L1074.74 488.51 L1075.60 488.57 L1076.45 488.62 L1077.29 488.66 L1078.12 488.70 L1078.94 488.73 L1079.76 488.75 L1080.57 488.77 L1081.38 488.79 L1082.18 488.80 L1082.97 488.80 L1083.77 488.80 L1084.55 488.80 L1085.34 488.80 L1086.12 488.80 L1086.89 488.79 L1087.67 488.78 L1088.44 488.78 L1089.21 488.77 L1089.98 488.77 L1090.74 488.76 L1091.51 488.76 L1092.28 488.76 L1093.05 488.77 L1093.81 488.77 L1094.58 488.79 L1095.35 488.80 L1096.12 488.83 L1096.90 488.85 L1097.67 488.89 L1098.45 488.93 L1099.24 488.98 L1100.02 489.04 L1100.82 489.10 L1101.61 489.18 L1102.41 489.26 L1103.22 489.36 L1104.03 489.46 L1104.85 489.58 L1105.67 489.71 L1106.50 489.85 L1107.34 490.01 L1108.19 490.18 L1109.04 490.36 L1109.90 490.56 L1110.78 490.77 L1111.66 491.00 L1112.55 491.24 L1113.45 491.50 L1114.36 491.78 L1115.28 492.08 L1116.22 492.39 L1117.16 492.73 L1118.12 493.08 L1119.09 493.46 L1120.07 493.85 L1121.07 494.27 L1122.08 494.70 L1123.10 495.16 L1124.13 495.63 L1125.18 496.12 L1126.23 496.63 L1127.30 497.15 L1128.38 497.69 L1129.47 498.25 L1130.58 498.81 L1131.69 499.39 L1132.81 499.99 L1133.94 500.59 L1135.09 501.20 L1136.24 501.83 L1137.40 502.46 L1138.57 503.10 L1139.75 503.75 L1140.93 504.40 L1142.13 505.06 L1143.33 505.73 L1144.54 506.40 L1145.76 507.07 L1146.98 507.74 L1148.22 508.42 L1149.45 509.10 L1150.70 509.77 L1151.95 510.45 L1153.20 511.12 L1154.46 511.80 L1155.73 512.46 L1157.00 513.13 L1158.28 513.79 L1159.56 514.44 L1160.84 515.09 L1162.13 515.73 L1163.42 516.36 L1164.72 516.99 L1166.02 517.60 L1167.32 518.20 L1168.62 518.80 L1169.93 519.38 L1171.24 519.94 L1172.55 520.50 L1173.86 521.04 L1175.17 521.56 L1176.48 522.07 L1177.80 522.56 L1179.11 523.03 L1180.43 523.48 L1181.74 523.92 L1183.06 524.34 L1184.37 524.74 L1185.69 525.12 L1187.01 525.48 L1188.33 525.83 L1189.66 526.16 L1190.98 526.48 L1192.31 526.78 L1193.65 527.06 L1194.99 527.34 L1196.33 527.59 L1197.68 527.84 L1199.03 528.07 L1200.39 528.28 L1201.75 528.49 L1203.12 528.68 L1204.50 528.86 L1205.89 529.03 L1207.28 529.19 L1208.68 529.34 L1210.09 529.48 L1211.51 529.61 L1212.94 529.74 L1214.37 529.85 L1215.82 529.95 L1217.28 530.05 L1218.75 530.14 L1220.23 530.23 L1221.72 530.30 L1223.22 530.38 L1224.74 530.44 L1226.27 530.50 L1227.81 530.56 L1229.37 530.61 L1230.94 530.66 L1232.52 530.71 L1234.12 530.75 L1235.73 530.79 L1237.36 530.83 L1239.01 530.87 L1240.67 530.90 L1242.35 530.94 L1244.05 530.97 L1245.76 531.01 L1247.49 531.05 L1249.24 531.08 L1251.01 531.12 L1252.80 531.16 L1254.61 531.21 L1256.44 531.25 L1258.28 531.30 L1260.15 531.35 L1262.03 531.40 L1263.92 531.46 L1265.84 531.52 L1267.76 531.58 L1269.70 531.64 L1271.66 531.71 L1273.62 531.77 L1275.60 531.84 L1277.59 531.91 L1279.58 531.99 L1281.59 532.06 L1283.61 532.14 L1285.63 532.22 L1287.66 532.31 L1289.69 532.39 L1291.73 532.48 L1293.78 532.56 L1295.83 532.65 L1297.88 532.75 L1299.93 532.84 L1301.98 532.93 L1304.04 533.03 L1306.09 533.13 L1308.15 533.23 L1310.20 533.33 L1312.24 533.44 L1314.29 533.54 L1316.33 533.65 L1318.36 533.76 L1320.39 533.87 L1322.41 533.98 L1324.43 534.09 L1326.43 534.20 L1328.43 534.32 L1330.42 534.43 L1332.39 534.55 L1334.36 534.67 L1336.31 534.79 L1338.25 534.91 L1340.17 535.03 L1342.08 535.16 L1343.98 535.28 L1345.85 535.41 L1347.72 535.53 L1349.56 535.66 L1351.38 535.79 L1353.19 535.91 L1354.98 536.04 L1356.74 536.17 L1358.49 536.30 L1360.22 536.43 L1361.94 536.57 L1363.63 536.70 L1365.31 536.83 L1366.98 536.96 L1368.63 537.09 L1370.26 537.23 L1371.88 537.36 L1373.49 537.49 L1375.08 537.62 L1376.66 537.76 L1378.23 537.89 L1379.79 538.02 L1381.34 538.15 L1382.87 538.28 L1384.40 538.41 L1385.92 538.54 L1387.42 538.67 L1388.92 538.80 L1390.42 538.92 L1391.90 539.05 L1393.38 539.17 L1394.85 539.30 L1396.32 539.42 L1397.78 539.54 L1399.23 539.66 L1400.69 539.78 L1402.13 539.89 L1403.58 540.01 L1405.02 540.12 L1406.46 540.23 L1407.90 540.34 L1409.34 540.45 L1410.78 540.56 L1412.22 540.66 L1413.66 540.76 L1415.10 540.86 L1416.54 540.96 L1417.98 541.06 L1419.43 541.15 L1420.88 541.24 L1422.33 541.33 L1423.79 541.41 L1425.25 541.49 L1426.72 541.57 L1428.20 541.65 L1429.68 541.72 L1431.16 541.79 L1432.66 541.86 L1434.16 541.92 L1435.67 541.99 L1437.19 542.05 L1438.71 542.10 L1440.24 542.16 L1441.78 542.21 L1443.33 542.26 L1444.89 542.30 L1446.45 542.35 L1448.03 542.39 L1449.61 542.43 L1451.21 542.46 L1452.81 542.50 L1454.42 542.53 L1456.04 542.56 L1457.67 542.59 L1459.32 542.62 L1460.97 542.64 L1462.63 542.66 L1464.31 542.68 L1466.00 542.70 L1467.69 542.72 L1469.40 542.73 L1471.12 542.75 L1472.85 542.76 L1474.60 542.77 L1476.35 542.78 L1478.12 542.78 L1479.91 542.79 L1481.70 542.79 L1483.51 542.80 L1485.33 542.80 L1487.16 542.80 L1489.01 542.80 L1490.87 542.80 L1492.75 542.79 L1494.64 542.79 L1496.55 542.78 L1498.47 542.78 L1500.40 542.77 L1502.35 542.76 L1504.31 542.75 L1506.29 542.74 L1508.29 542.73 L1510.30 542.72 L1512.33 542.71 L1514.37 542.70 L1516.43 542.69 L1518.51 542.68 L1520.61 542.66 L1522.73 542.65 L1524.87 542.64 L1527.04 542.63 L1529.23 542.63 L1531.45 542.62 L1533.70 542.62 L1535.99 542.62 L1538.30 542.62 L1540.65 542.63 L1543.03 542.64 L1545.46 542.65 L1547.92 542.67 L1550.42 542.70 L1552.97 542.73 L1555.56 542.77 L1558.19 542.81 L1560.88 542.86 L1563.61 542.92 L1566.39 542.98 L1569.23 543.05 L1572.12 543.13 L1575.07 543.22 L1578.07 543.32 L1581.13 543.42 L1584.26 543.54 L1587.44 543.67 L1590.70 543.80 L1594.01 543.95 L1597.40 544.11 L1600.85 544.28 L1604.37 544.46 L1607.97 544.65 L1611.64 544.86 L1615.39 545.08 L1619.21 545.31 L1623.11 545.56 L1627.10 545.82 L1631.16 546.10 L1635.31 546.39 L1639.55 546.70 L1643.87 547.02 L1648.28 547.36 L1652.79 547.71 L1657.38 548.08 L1662.07 548.47 L1666.85 548.88 L1671.73 549.30" stroke="#000" stroke-width="2.35" fill="none"/>
<path d="M1016.00 479.30 L1017.95 480.00 L1019.87 480.68 L1021.74 481.34 L1023.58 481.99 L1025.38 482.63 L1027.14 483.25 L1028.87 483.86 L1030.57 484.46 L1032.23 485.04 L1033.85 485.61 L1035.45 486.16 L1037.01 486.71 L1038.54 487.24 L1040.04 487.75 L1041.51 488.26 L1042.94 488.75 L1044.35 489.23 L1045.73 489.70 L1047.09 490.16 L1048.42 490.61 L1049.72 491.04 L1050.99 491.47 L1052.24 491.88 L1053.47 492.29 L1054.67 492.68 L1055.85 493.07 L1057.00 493.44 L1058.14 493.81 L1059.25 494.16 L1060.34 494.51 L1061.42 494.85 L1062.47 495.18 L1063.51 495.50 L1064.53 495.82 L1065.53 496.13 L1066.51 496.42 L1067.48 496.72 L1068.43 497.00 L1069.37 497.28 L1070.30 497.55 L1071.21 497.81 L1072.11 498.07 L1073.00 498.32 L1073.88 498.57 L1074.74 498.81 L1075.60 499.04 L1076.45 499.27 L1077.29 499.50 L1078.12 499.72 L1078.94 499.94 L1079.76 500.15 L1080.57 500.35 L1081.38 500.56 L1082.18 500.76 L1082.97 500.95 L1083.77 501.14 L1084.55 501.33 L1085.34 501.51 L1086.12 501.69 L1086.89 501.87 L1087.67 502.04 L1088.44 502.22 L1089.21 502.38 L1089.98 502.55 L1090.74 502.71 L1091.51 502.87 L1092.28 503.02 L1093.05 503.18 L1093.81 503.33 L1094.58 503.47 L1095.35 503.62 L1096.12 503.76 L1096.90 503.91 L1097.67 504.05 L1098.45 504.18 L1099.24 504.32 L1100.02 504.45 L1100.82 504.58 L1101.61 504.72 L1102.41 504.85 L1103.22 504.97 L1104.03 505.10 L1104.85 505.23 L1105.67 505.35 L1106.50 505.47 L1107.34 505.60 L1108.19 505.72 L1109.04 505.84 L1109.90 505.96 L1110.78 506.08 L1111.66 506.20 L1112.55 506.32 L1113.45 506.44 L1114.36 506.56 L1115.28 506.68 L1116.22 506.80 L1117.16 506.92 L1118.12 507.04 L1119.09 507.16 L1120.07 507.28 L1121.07 507.40 L1122.08 507.52 L1123.10 507.65 L1124.13 507.77 L1125.18 507.90 L1126.23 508.02 L1127.30 508.14 L1128.38 508.27 L1129.47 508.40 L1130.58 508.52 L1131.69 508.65 L1132.81 508.78 L1133.94 508.91 L1135.09 509.04 L1136.24 509.17 L1137.40 509.30 L1138.57 509.43 L1139.75 509.56 L1140.93 509.69 L1142.13 509.82 L1143.33 509.96 L1144.54 510.09 L1145.76 510.22 L1146.98 510.36 L1148.22 510.49 L1149.45 510.63 L1150.70 510.76 L1151.95 510.90 L1153.20 511.04 L1154.46 511.17 L1155.73 511.31 L1157.00 511.45 L1158.28 511.59 L1159.56 511.73 L1160.84 511.87 L1162.13 512.01 L1163.42 512.15 L1164.72 512.29 L1166.02 512.43 L1167.32 512.57 L1168.62 512.71 L1169.93 512.85 L1171.24 513.00 L1172.55 513.14 L1173.86 513.28 L1175.17 513.43 L1176.48 513.57 L1177.80 513.71 L1179.11 513.86 L1180.43 514.00 L1181.74 514.15 L1183.06 514.30 L1184.37 514.44 L1185.69 514.59 L1187.01 514.74 L1188.33 514.89 L1189.66 515.04 L1190.98 515.19 L1192.31 515.34 L1193.65 515.49 L1194.99 515.64 L1196.33 515.79 L1197.68 515.95 L1199.03 516.10 L1200.39 516.26 L1201.75 516.42 L1203.12 516.58 L1204.50 516.74 L1205.89 516.90 L1207.28 517.06 L1208.68 517.22 L1210.09 517.39 L1211.51 517.56 L1212.94 517.73 L1214.37 517.90 L1215.82 518.07 L1217.28 518.24 L1218.75 518.42 L1220.23 518.59 L1221.72 518.77 L1223.22 518.95 L1224.74 519.14 L1226.27 519.32 L1227.81 519.51 L1229.37 519.70 L1230.94 519.89 L1232.52 520.08 L1234.12 520.28 L1235.73 520.48 L1237.36 520.68 L1239.01 520.88 L1240.67 521.09 L1242.35 521.30 L1244.05 521.51 L1245.76 521.72 L1247.49 521.94 L1249.24 522.16 L1251.01 522.38 L1252.80 522.60 L1254.61 522.83 L1256.44 523.06 L1258.28 523.29 L1260.15 523.53 L1262.03 523.77 L1263.92 524.01 L1265.84 524.26 L1267.76 524.50 L1269.70 524.75 L1271.66 525.01 L1273.62 525.26 L1275.60 525.52 L1277.59 525.78 L1279.58 526.04 L1281.59 526.31 L1283.61 526.58 L1285.63 526.85 L1287.66 527.12 L1289.69 527.40 L1291.73 527.68 L1293.78 527.96 L1295.83 528.24 L1297.88 528.52 L1299.93 528.81 L1301.98 529.10 L1304.04 529.39 L1306.09 529.69 L1308.15 529.98 L1310.20 530.28 L1312.24 530.58 L1314.29 530.89 L1316.33 531.19 L1318.36 531.50 L1320.39 531.81 L1322.41 532.12 L1324.43 532.43 L1326.43 532.74 L1328.43 533.06 L1330.42 533.38 L1332.39 533.70 L1334.36 534.02 L1336.31 534.34 L1338.25 534.67 L1340.17 534.99 L1342.08 535.32 L1343.98 535.65 L1345.85 535.99 L1347.72 536.32 L1349.56 536.65 L1351.38 536.99 L1353.19 537.33 L1354.98 537.67 L1356.74 538.01 L1358.49 538.35 L1360.22 538.69 L1361.94 539.04 L1363.63 539.38 L1365.31 539.72 L1366.98 540.07 L1368.63 540.41 L1370.26 540.75 L1371.88 541.10 L1373.49 541.44 L1375.08 541.78 L1376.66 542.12 L1378.23 542.46 L1379.79 542.80 L1381.34 543.14 L1382.87 543.47 L1384.40 543.81 L1385.92 544.14 L1387.42 544.47 L1388.92 544.79 L1390.42 545.12 L1391.90 545.44 L1393.38 545.76 L1394.85 546.07 L1396.32 546.38 L1397.78 546.69 L1399.23 547.00 L1400.69 547.30 L1402.13 547.59 L1403.58 547.89 L1405.02 548.17 L1406.46 548.46 L1407.90 548.74 L1409.34 549.01 L1410.78 549.28 L1412.22 549.54 L1413.66 549.80 L1415.10 550.05 L1416.54 550.30 L1417.98 550.54 L1419.43 550.77 L1420.88 551.00 L1422.33 551.22 L1423.79 551.44 L1425.25 551.64 L1426.72 551.84 L1428.20 552.04 L1429.68 552.22 L1431.16 552.40 L1432.66 552.57 L1434.16 552.73 L1435.67 552.89 L1437.19 553.04 L1438.71 553.17 L1440.24 553.31 L1441.78 553.43 L1443.33 553.55 L1444.89 553.65 L1446.45 553.75 L1448.03 553.84 L1449.61 553.93 L1451.21 554.00 L1452.81 554.07 L1454.42 554.13 L1456.04 554.18 L1457.67 554.22 L1459.32 554.25 L1460.97 554.28 L1462.63 554.29 L1464.31 554.30 L1466.00 554.30 L1467.69 554.29 L1469.40 554.27 L1471.12 554.25 L1472.85 554.21 L1474.60 554.16 L1476.35 554.11 L1478.12 554.05 L1479.91 553.97 L1481.70 553.89 L1483.51 553.80 L1485.33 553.70 L1487.16 553.59 L1489.01 553.47 L1490.87 553.34 L1492.75 553.21 L1494.64 553.06 L1496.55 552.90 L1498.47 552.74 L1500.40 552.56 L1502.35 552.38 L1504.31 552.18 L1506.29 551.98 L1508.29 551.76 L1510.30 551.54 L1512.33 551.30 L1514.37 551.06 L1516.43 550.80 L1518.51 550.54 L1520.61 550.27 L1522.73 549.99 L1524.87 549.70 L1527.04 549.41 L1529.23 549.12 L1531.45 548.83 L1533.70 548.53 L1535.99 548.24 L1538.30 547.94 L1540.65 547.65 L1543.03 547.36 L1545.46 547.07 L1547.92 546.79 L1550.42 546.52 L1552.97 546.26 L1555.56 546.00 L1558.19 545.76 L1560.88 545.52 L1563.61 545.30 L1566.39 545.09 L1569.23 544.90 L1572.12 544.72 L1575.07 544.56 L1578.07 544.41 L1581.13 544.29 L1584.26 544.18 L1587.44 544.10 L1590.70 544.04 L1594.01 544.01 L1597.40 543.99 L1600.85 544.01 L1604.37 544.05 L1607.97 544.12 L1611.64 544.22 L1615.39 544.34 L1619.21 544.51 L1623.11 544.70 L1627.10 544.93 L1631.16 545.19 L1635.31 545.48 L1639.55 545.82 L1643.87 546.19 L1648.28 546.61 L1652.79 547.06 L1657.38 547.55 L1662.07 548.09 L1666.85 548.67 L1671.73 549.30" stroke="#000" stroke-width="2.6" stroke-linecap="round" stroke-dasharray="0.1 11.6" fill="none"/>
<rect x="1010.90" y="473.60" width="10.2" height="11.4"/>
<rect x="1043.69" y="456.00" width="10.2" height="11.4"/>
<rect x="1076.47" y="436.70" width="10.2" height="11.4"/>
<rect x="1109.26" y="428.90" width="10.2" height="11.4"/>
<rect x="1174.83" y="383.50" width="10.2" height="11.4"/>
<rect x="1240.41" y="267.70" width="10.2" height="11.4"/>
<rect x="1355.16" y="96.20" width="10.2" height="11.4"/>
<ellipse cx="1016.00" cy="479.30" rx="5.6" ry="7.2"/>
<ellipse cx="1048.79" cy="485.20" rx="5.6" ry="7.2"/>
<ellipse cx="1081.57" cy="491.30" rx="5.6" ry="7.2"/>
<ellipse cx="1114.36" cy="485.00" rx="5.6" ry="7.2"/>
<ellipse cx="1179.93" cy="531.20" rx="5.6" ry="7.2"/>
<ellipse cx="1245.51" cy="530.10" rx="5.6" ry="7.2"/>
<ellipse cx="1360.26" cy="535.50" rx="5.6" ry="7.2"/>
<ellipse cx="1425.83" cy="542.90" rx="5.6" ry="7.2"/>
<ellipse cx="1507.80" cy="542.90" rx="5.6" ry="7.2"/>
<ellipse cx="1589.77" cy="542.10" rx="5.6" ry="7.2"/>
<ellipse cx="1671.73" cy="549.30" rx="5.6" ry="7.2"/>
<path d="M1016.00 470.00 L1023.20 484.00 L1008.80 484.00 Z"/>
<path d="M1048.79 481.70 L1055.99 495.70 L1041.59 495.70 Z"/>
<path d="M1081.57 492.40 L1088.77 506.40 L1074.37 506.40 Z"/>
<path d="M1114.36 497.70 L1121.56 511.70 L1107.16 511.70 Z"/>
<path d="M1179.93 504.50 L1187.13 518.50 L1172.73 518.50 Z"/>
<path d="M1245.51 512.20 L1252.71 526.20 L1238.31 526.20 Z"/>
<path d="M1360.26 527.20 L1367.46 541.20 L1353.06 541.20 Z"/>
<path d="M1425.83 545.90 L1433.03 559.90 L1418.63 559.90 Z"/>
<path d="M1507.80 545.90 L1515.00 559.90 L1500.60 559.90 Z"/>
<path d="M1589.77 529.20 L1596.97 543.20 L1582.57 543.20 Z"/>
<path d="M1671.73 540.00 L1678.93 554.00 L1664.53 554.00 Z"/>
</g>
<path d="M1515.9 211.2 H1525.9 M1556.8 211.2 H1566.8 M1515.9 249.8 H1535.9 M1557.6 249.8 H1577.2" stroke="#000" stroke-width="2.2" fill="none"/>
<rect x="1539.3" y="203" width="14.2" height="16.3"/>
<ellipse cx="1546.55" cy="249.5" rx="7.75" ry="9"/>
<path d="M1546.8 276.6 L1556.5 295.3 L1537.1 295.3 Z"/>
<circle cx="1516.7" cy="288.3" r="1.6"/>
<circle cx="1529.2" cy="288.3" r="1.6"/>
<circle cx="1558.1" cy="288.3" r="1.6"/>
<circle cx="1569.3" cy="288.3" r="1.6"/>
<text transform="translate(1576.01 222.22) scale(0.8650 1)" font-size="30.67">NUJOL</text>
<text transform="translate(1576.36 260.31) scale(0.8299 1)" font-size="31.24">DMSO</text>
<text transform="translate(1576.41 299.02) scale(0.8035 1)" font-size="31.56">DMF</text>
</svg>
</body></html>
